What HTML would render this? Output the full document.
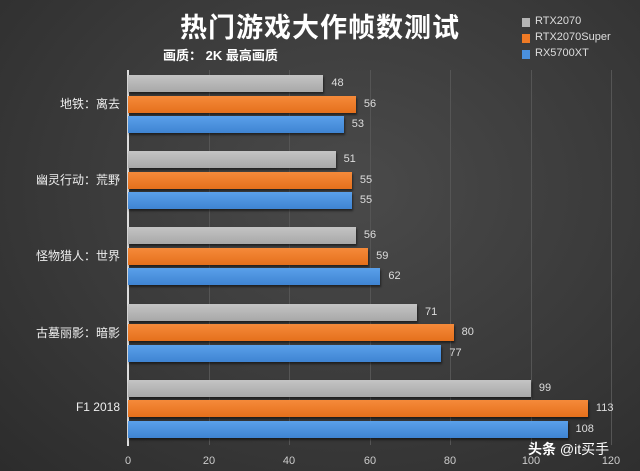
<!DOCTYPE html>
<html><head><meta charset="utf-8"><style>
body{margin:0;}
#c{width:640px;height:471px;position:relative;overflow:hidden;font-family:"Liberation Sans","Noto Sans CJK SC",sans-serif;
background:radial-gradient(ellipse at 55% 40%,#4a4a4a 0%,#3a3a3a 55%,#2c2c2c 100%);}
.t{position:absolute;color:#fff;white-space:nowrap}
.bar{position:absolute;height:17px;left:128px;box-shadow:1px 2px 2px rgba(0,0,0,.5)}
.g{background:linear-gradient(#c4c4c4,#a8a8a8)}
.o{background:linear-gradient(#f58a3a,#e5701c)}
.b{background:linear-gradient(#5aa0ea,#3f84d2)}
.v{position:absolute;color:#ddd;font-size:11px}
.lab{position:absolute;right:520px;color:#eee;font-size:12px;white-space:nowrap}
.grid{position:absolute;top:70px;height:375px;width:1px;background:#555}
.tk{position:absolute;top:455px;color:#ccc;font-size:11px;width:30px;text-align:center}
</style></head><body><div id="c">
<div class="t" style="left:0;width:640px;text-align:center;top:6px;font-size:27px;font-weight:bold;letter-spacing:1px">热门游戏大作帧数测试</div>
<div class="t" style="left:163px;top:45px;font-size:13px;font-weight:bold">画质： 2K 最高画质</div>
<div style="position:absolute;left:522px;top:18px;width:8px;height:9px;background:#b5b5b5"></div>
<div style="position:absolute;left:522px;top:34px;width:8px;height:9px;background:#ef7a25"></div>
<div style="position:absolute;left:522px;top:50px;width:8px;height:9px;background:#4a90de"></div>
<div class="t" style="left:535px;top:15px;font-size:11px;color:#ddd">RTX2070</div>
<div class="t" style="left:535px;top:31px;font-size:11px;color:#ddd">RTX2070Super</div>
<div class="t" style="left:535px;top:47px;font-size:11px;color:#ddd">RX5700XT</div>
<div class="grid" style="left:209px"></div><div class="grid" style="left:289px"></div><div class="grid" style="left:370px"></div><div class="grid" style="left:450px"></div><div class="grid" style="left:531px"></div><div class="grid" style="left:611px"></div>
<div style="position:absolute;left:127px;top:70px;width:2px;height:376px;background:#ddd"></div>
<div class="tk" style="left:113px">0</div><div class="tk" style="left:194px">20</div><div class="tk" style="left:274px">40</div><div class="tk" style="left:355px">60</div><div class="tk" style="left:435px">80</div><div class="tk" style="left:516px">100</div><div class="tk" style="left:596px">120</div>
<div id="bars"></div>
<div class="t" style="left:528px;top:439px;font-size:14px;color:#fff"><b>头条</b> @it买手</div>
</div>
<script>
var d=[["地铁：离去",48,56,53],["幽灵行动：荒野",51,55,55],["怪物猎人：世界",56,59,62],["古墓丽影：暗影",71,80,77],["F1 2018",99,113,108]];
var h="";
d.forEach(function(r,i){var y=75+i*76.2;
["g","o","b"].forEach(function(c,j){var yy=y+j*20.5,w=r[j+1]*4.07;
h+='<div class="bar '+c+'" style="top:'+yy+'px;width:'+w+'px"></div><div class="v" style="top:'+(yy+2)+'px;left:'+(128+w+8)+'px">'+r[j+1]+'</div>';});
h+='<div class="lab" style="top:'+(y+20)+'px">'+r[0]+'</div>';});
document.getElementById("bars").innerHTML=h;
</script>
</body></html>
